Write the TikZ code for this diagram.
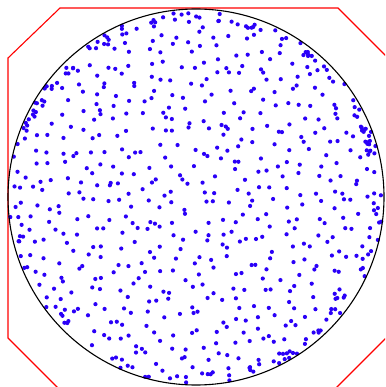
\documentclass[tikz,border=0pt]{standalone}
\usepackage{tikz}
\definecolor{dotblue}{HTML}{2A00F8}
\definecolor{octred}{HTML}{FF0000}
\tikzset{
  sample/.style={fill=dotblue},
  rim/.style={black, line width=1.1pt},
  hull/.style={octred, line width=1.1pt}
}
\begin{document}
\begin{tikzpicture}[x=1pt,y=-1pt]
  \useasboundingbox (0,0) rectangle (385,387);
  \clip (0,0) rectangle (385,387);
  \pgfmathsetseed{4217}

  \coordinate (c) at (196,197);

  \draw[hull] (8,58) -- (60,8) -- (338,8) -- (386,56) -- (386,338)
    -- (336,388) -- (58,388) -- (8,338) -- cycle;

  \foreach \gx in {-14,...,13} {
    \foreach \gy in {-14,...,13} {
      \pgfmathsetmacro\px{14*(\gx+rnd)}
      \pgfmathsetmacro\py{14*(\gy+rnd)}
      \pgfmathtruncatemacro\inside{((\px/100)^2+(\py/100)^2) < 3.35}
      \ifnum\inside=1
        \fill[sample] ([shift={(\px,\py)}]c) circle (2.1);
      \fi
    }
  }
  \foreach \i in {1,...,150} {
    \pgfmathsetmacro\rr{177+10*rnd}
    \pgfmathsetmacro\aa{360*rnd}
    \fill[sample] ([shift={(\aa:\rr)}]c) circle (2.1);
  }

  \draw[rim] (c) circle (188);
\end{tikzpicture}
\end{document}
